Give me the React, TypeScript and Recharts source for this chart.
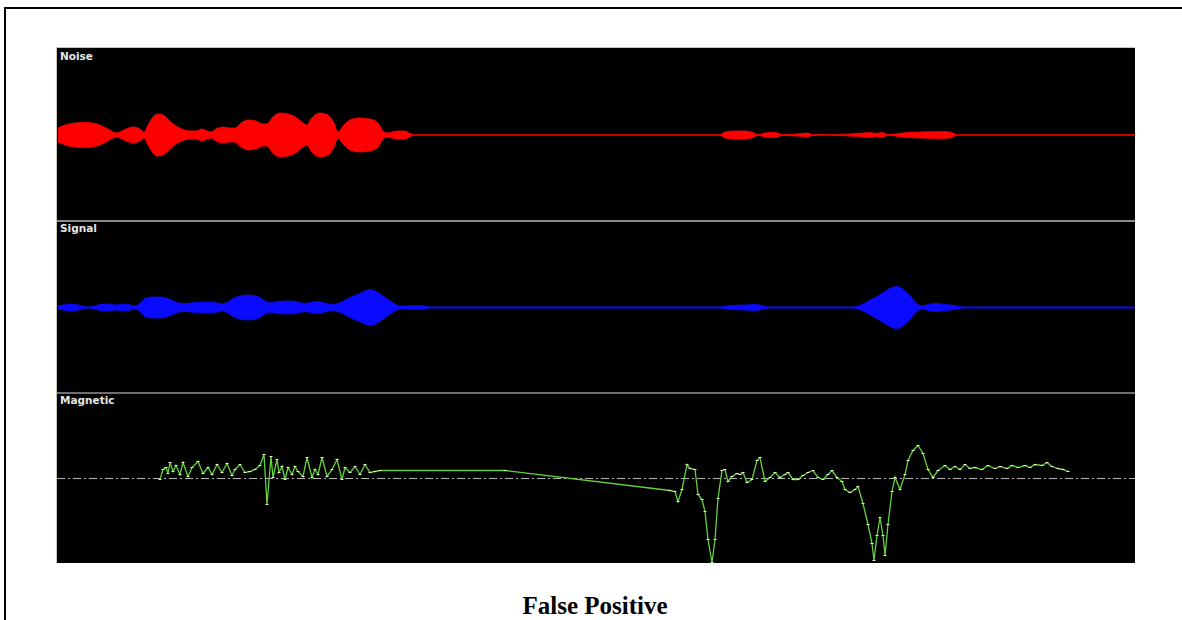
import { AreaChart, Area, LineChart, Line, XAxis, YAxis, ReferenceLine } from 'recharts';

// sample positions (t) and half-height of the envelope
const noiseT = [1, 8, 18, 30, 40, 51, 59, 63, 69, 76, 83, 87, 91, 96, 101, 106, 113, 119, 125, 133, 139, 145, 150, 154, 159, 166, 173, 178, 183, 191, 199, 206, 210, 215, 223, 231, 240, 246, 250, 254, 263, 271, 277, 281, 286, 293, 303, 313, 321, 326, 330, 335, 341, 348, 353, 358, 663, 668, 678, 688, 696, 701, 708, 718, 726, 746, 751, 755, 773, 806, 813, 819, 825, 831, 850, 863, 883, 893, 900, 1078];
const noiseAmp = [7, 10, 12, 12.5, 11, 6, 2, 3, 6, 8, 6, 3, 10, 18, 21, 20, 14, 9, 6, 4, 4, 6, 4, 3, 6, 8, 7, 7, 11, 15, 14, 11, 11, 17, 22, 21, 17, 12, 10, 16, 22, 20, 12, 3, 9, 15, 17, 16, 12, 4, 2, 3, 4, 4, 1.5, 0.3, 0.3, 3, 4, 4, 2.5, 0.4, 2, 2.5, 0.4, 1.5, 2, 0.4, 0.3, 2, 2.5, 1.5, 2.5, 0.4, 2.5, 3, 3.5, 3, 0.3, 0.3];

const signalT = [1, 6, 13, 19, 25, 31, 38, 43, 51, 58, 63, 71, 77, 83, 88, 95, 103, 111, 118, 125, 130, 138, 148, 158, 165, 170, 178, 191, 201, 209, 213, 221, 231, 241, 248, 253, 261, 268, 275, 281, 293, 305, 313, 321, 331, 339, 343, 348, 358, 368, 373, 663, 673, 688, 698, 705, 711, 796, 818, 840, 851, 861, 865, 873, 880, 888, 898, 906, 1078];
const signalAmp = [1.5, 2.5, 3.5, 3, 1.5, 0.6, 1.5, 3, 3.5, 2.5, 3, 3, 1.5, 4, 9, 10.5, 10.5, 9, 6, 4, 4, 5, 5.5, 5, 3.5, 5, 10, 12.5, 11, 6, 5, 6, 6.5, 5.5, 4, 5, 6, 4.5, 3, 4, 10, 15, 18, 15, 8, 3, 1.5, 1.5, 2, 1.5, 0.6, 0.6, 2, 2.5, 3, 2, 0.6, 0.6, 10, 21, 14, 3, 1.5, 3.5, 4, 3, 2, 0.6, 0.6];

const magneticT = [103, 106, 109, 111, 113, 116, 119, 123, 126, 131, 135, 141, 146, 151, 155, 160, 165, 170, 175, 178, 183, 188, 193, 198, 203, 207, 210, 214, 216, 220, 222, 225, 228, 231, 235, 238, 241, 246, 250, 255, 258, 261, 265, 270, 275, 280, 285, 288, 293, 298, 303, 308, 313, 318, 323, 448, 613, 618, 621, 625, 630, 633, 638, 641, 645, 648, 651, 655, 658, 661, 665, 668, 671, 675, 680, 683, 686, 690, 695, 700, 703, 708, 713, 718, 723, 728, 731, 736, 741, 746, 751, 756, 761, 766, 771, 775, 780, 785, 788, 793, 798, 801, 806, 811, 815, 817, 820, 823, 826, 828, 831, 835, 838, 843, 848, 851, 856, 861, 866, 871, 876, 881, 888, 893, 898, 903, 908, 913, 918, 925, 931, 938, 943, 950, 955, 961, 968, 973, 978, 985, 990, 995, 1001, 1006, 1011];
const magneticVal = [-1, 9, 11, 5, 16, 7, 13, 4, 16, 2, 11, 17, 5, 11, 4, 14, 6, 15, 3, 9, 14, 6, 7, 9, 13, 24, -26, 22, 1, 19, 6, 12, -1, 11, 4, 12, 7, 2, 21, 1, 9, 4, 21, 2, 9, 19, -1, 11, 6, 12, 4, 14, 6, 7, 8, 8, -12, -13, -23, -11, 14, 10, 9, -16, -21, -33, -61, -84, -61, -20, 8, 9, -3, 2, 5, 4, 6, -4, -1, 18, 21, -3, 1, 6, 1, 4, 6, -1, -1, 3, 6, 8, 1, -1, 4, 8, 1, -3, -11, -14, -11, -8, -25, -46, -65, -82, -57, -39, -57, -77, -46, -13, 1, -11, 4, 18, 28, 33, 25, 9, 1, 8, 13, 9, 12, 9, 14, 10, 11, 9, 13, 10, 12, 10, 13, 11, 13, 11, 14, 13, 16, 12, 10, 9, 7];

const rowLabels = ['Noise', 'Signal', 'Magnetic'];
const caption = 'False Positive';

const noiseData = noiseT.map((t, i) => ({ t, band: [-noiseAmp[i], noiseAmp[i]] }));
const signalData = signalT.map((t, i) => ({ t, band: [-signalAmp[i], signalAmp[i]] }));
const magneticData = magneticT.map((t, i) => ({ t, v: magneticVal[i] }));

const PANEL_X = 57;
const PANEL_W = 1078;
const rows = [
  { top: 49, h: 172 },
  { top: 222, h: 171 },
  { top: 394, h: 169 },
];

const labelStyle: React.CSSProperties = {
  position: 'absolute',
  left: PANEL_X + 3,
  fontFamily: '"DejaVu Sans", Verdana, sans-serif',
  fontWeight: 700,
  fontSize: 10.5,
  color: '#e6e6e6',
  lineHeight: '11px',
};

function TickDot(props: any) {
  const { cx, cy, index } = props;
  if (cx == null || cy == null) return <g key={index} />;
  return <rect key={index} x={cx - 1.5} y={cy - 0.5} width={3} height={1} fill="#e4f5c0" />;
}

function Envelope({ data, h, color }: { data: any[]; h: number; color: string }) {
  const half = h / 2;
  return (
    <AreaChart width={PANEL_W} height={h} data={data} margin={{ top: 0, right: 0, bottom: 0, left: 0 }}>
      <XAxis dataKey="t" type="number" domain={[0, PANEL_W]} hide />
      <YAxis type="number" domain={[-half, half]} hide allowDataOverflow />
      <Area
        type="monotone"
        dataKey="band"
        stroke={color}
        strokeWidth={0.8}
        fill={color}
        fillOpacity={1}
        isAnimationActive={false}
        dot={false}
        activeDot={false}
      />
    </AreaChart>
  );
}

export default function App() {
  return (
    <div style={{ position: 'fixed', left: 0, top: 0, width: 1182, height: 620, background: '#fff', overflow: 'hidden' }}>
      {/* outer frame */}
      <div style={{ position: 'absolute', left: 4, top: 7, right: 0, height: 2, background: '#000' }} />
      <div style={{ position: 'absolute', left: 4, top: 7, width: 2, bottom: 0, background: '#000' }} />

      {/* black scope panel */}
      <div style={{ position: 'absolute', left: PANEL_X, top: 48, width: PANEL_W, height: 515, background: '#000' }} />
      <div style={{ position: 'absolute', left: PANEL_X, top: 47, width: PANEL_W, height: 1, background: '#cfc8b0' }} />
      <div style={{ position: 'absolute', left: PANEL_X - 1, top: 47, width: 1, height: 516, background: '#cfc8b0' }} />
      <div style={{ position: 'absolute', left: PANEL_X, top: 220, width: PANEL_W, height: 2, background: '#8a8a8a' }} />
      <div style={{ position: 'absolute', left: PANEL_X, top: 392, width: PANEL_W, height: 2, background: '#6e6e6e' }} />

      <div style={{ position: 'absolute', left: PANEL_X, top: rows[0].top }}>
        <Envelope data={noiseData} h={rows[0].h} color="#ff0000" />
      </div>
      <div style={{ position: 'absolute', left: PANEL_X, top: rows[1].top }}>
        <Envelope data={signalData} h={rows[1].h} color="#0a0aff" />
      </div>
      <div style={{ position: 'absolute', left: PANEL_X, top: rows[2].top }}>
        <LineChart width={PANEL_W} height={rows[2].h} data={magneticData} margin={{ top: 0, right: 0, bottom: 0, left: 0 }}>
          <XAxis dataKey="t" type="number" domain={[0, PANEL_W]} hide />
          <YAxis type="number" domain={[-rows[2].h / 2, rows[2].h / 2]} hide allowDataOverflow />
          <ReferenceLine y={0} stroke="#b4b4b4" strokeWidth={1} strokeDasharray="8 3 2 3" />
          <Line
            type="linear"
            dataKey="v"
            stroke="#66d040"
            strokeWidth={1.3}
            dot={<TickDot />}
            activeDot={false}
            isAnimationActive={false}
          />
        </LineChart>
      </div>

      <div style={{ ...labelStyle, top: 51 }}>{rowLabels[0]}</div>
      <div style={{ ...labelStyle, top: 223 }}>{rowLabels[1]}</div>
      <div style={{ ...labelStyle, top: 395 }}>{rowLabels[2]}</div>

      <div
        style={{
          position: 'absolute',
          left: 395,
          width: 400,
          top: 593,
          textAlign: 'center',
          fontFamily: '"Liberation Serif", "Times New Roman", serif',
          fontWeight: 700,
          fontSize: 25,
          lineHeight: '25px',
          color: '#000',
        }}
      >
        {caption}
      </div>
    </div>
  );
}
